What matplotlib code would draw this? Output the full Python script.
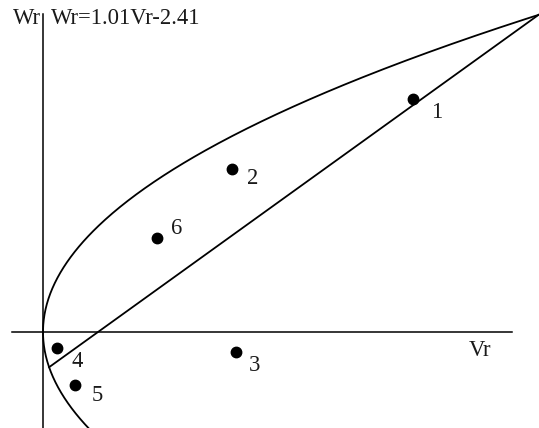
import numpy as np
import matplotlib
matplotlib.use("Agg")
import matplotlib.pyplot as plt

# --- data ---
point_labels = ["1", "2", "3", "4", "5", "6"]
vr_points = [16.05, 8.20, 8.37, 0.61, 1.39, 4.95]
wr_points = [14.18, 9.92, -1.22, -0.97, -3.23, 5.72]
line_slope = 1.01
line_intercept = -2.41
parab_a = 0.0577      # Vr = a * Wr^2
equation_text = "Wr=1.01Vr-2.41"

# --- figure ---
W, H = 539, 428
fig = plt.figure(figsize=(W / 100, H / 100), dpi=100)
ax = fig.add_axes([0, 0, 1, 1])
sx, sy = 23.05, 16.43
x0, y0 = 43, 332
ax.set_xlim(-x0 / sx, (W - x0) / sx)
ax.set_ylim(-(H - y0) / sy, y0 / sy)
ax.axis("off")

font = dict(family="Liberation Serif", fontsize=16.3, color="#1a1a1a")

# axes lines
ax.plot([0, 0], [-(H - y0) / sy, (y0 - 14) / sy], color="black", lw=1.1)
ax.plot([(12 - x0) / sx, (512 - x0) / sx], [0, 0], color="black", lw=1.1)

# intersections of line with parabola
A = parab_a * line_slope**2
B = 2 * parab_a * line_slope * line_intercept - 1
C = parab_a * line_intercept**2
disc = np.sqrt(B * B - 4 * A * C)
v_lo, v_hi = (-B - disc) / (2 * A), (-B + disc) / (2 * A)
w_hi = line_slope * v_hi + line_intercept

# parabola
wr = np.linspace(-(H - y0) / sy - 0.2, w_hi, 400)
ax.plot(parab_a * wr**2, wr, color="black", lw=1.3)

# line
vl = np.array([v_lo, v_hi])
ax.plot(vl, line_slope * vl + line_intercept, color="black", lw=1.3)

# points
ax.plot(vr_points, wr_points, "o", color="black", ms=7.5)
offsets = {"1": (24, -13), "2": (21, -9), "3": (19, -13),
           "4": (20, -14), "5": (22, -10), "6": (20, 10)}
for lab, v, w in zip(point_labels, vr_points, wr_points):
    dx, dy = offsets[lab]
    ax.annotate(lab, (v, w), xytext=(dx * 0.72, dy * 0.72), textcoords="offset points",
                ha="center", va="center", **font)

# axis labels and equation
ax.text((27 - x0) / sx, (y0 - 19) / sy, "Wr", ha="center", va="center", **font)
ax.text((480 - x0) / sx, (y0 - 351) / sy, "Vr", ha="center", va="center", **font)
ax.text((51 - x0) / sx, (y0 - 19) / sy, equation_text, ha="left", va="center", **font)

fig.savefig("out.png", dpi=100)
